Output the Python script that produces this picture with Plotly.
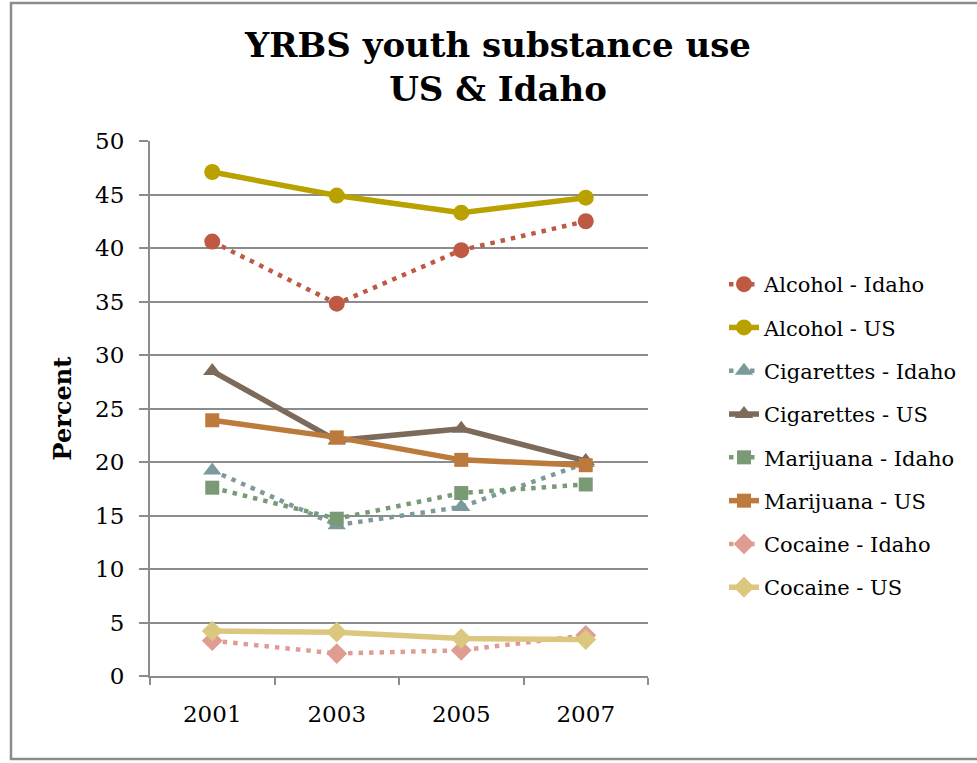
import plotly.graph_objects as go

years = ["2001", "2003", "2005", "2007"]
alcohol_idaho = [40.6, 34.8, 39.8, 42.5]
alcohol_us = [47.1, 44.9, 43.3, 44.7]
cig_idaho = [19.2, 14.1, 15.8, 19.9]
cig_us = [28.5, 22.0, 23.1, 20.1]
mari_idaho = [17.6, 14.7, 17.1, 17.9]
mari_us = [23.9, 22.3, 20.2, 19.7]
coc_idaho = [3.3, 2.1, 2.4, 3.8]
coc_us = [4.2, 4.1, 3.5, 3.4]

series = [
    ("Alcohol - Idaho", alcohol_idaho, "#BE5A44", "dot", "circle", 16),
    ("Alcohol - US", alcohol_us, "#B9A100", "solid", "circle", 16),
    ("Cigarettes - Idaho", cig_idaho, "#7C9A9C", "dot", "triangle-up", 16),
    ("Cigarettes - US", cig_us, "#7C6A5A", "solid", "triangle-up", 16),
    ("Marijuana - Idaho", mari_idaho, "#7A9A75", "dot", "square", 14),
    ("Marijuana - US", mari_us, "#BC7B3C", "solid", "square", 14),
    ("Cocaine - Idaho", coc_idaho, "#DF9C93", "dot", "diamond", 16),
    ("Cocaine - US", coc_us, "#DCC77F", "solid", "diamond", 16),
]

FONT = "DejaVu Serif"

fig = go.Figure()
for i, (name, vals, color, dash, sym, size) in enumerate(series):
    if dash == "dot":
        line = dict(color=color, width=4.5, dash="4.5px,6px")
    else:
        line = dict(color=color, width=5.5, dash="solid")
    fig.add_trace(go.Scatter(
        x=years, y=vals, name=name, mode="lines+markers",
        line=line,
        marker=dict(symbol=sym, size=size, color=color),
        legendgroup=f"g{i}",
    ))

W, H = 977, 763
L, R, T, B = 150, 648, 141, 676
pw, ph = R - L, B - T

def px(x):
    return (x - L) / pw

def py(y):
    return (B - y) / ph

fig.update_layout(
    width=W, height=H,
    margin=dict(l=L, r=W - R, t=T, b=H - B, pad=0),
    paper_bgcolor="white", plot_bgcolor="white",
    font=dict(family=FONT, color="black", size=22),
    title=dict(text="<b>YRBS youth substance use<br>US & Idaho</b>",
               x=498 / W, xanchor="center", xref="container",
               y=1 - 57 / H, yanchor="middle",
               font=dict(family=FONT, size=34, color="black")),
    showlegend=True,
    legend=dict(x=px(724), xanchor="left", y=py(264), yanchor="top",
                font=dict(family=FONT, size=21, color="black"),
                tracegroupgap=13, traceorder="grouped",
                bgcolor="rgba(0,0,0,0)", itemwidth=30),
    xaxis=dict(type="category", range=[-0.5, 3.5], showline=True,
               linecolor="#8C8C8C", linewidth=2,
               ticks="outside", tickson="boundaries", ticklen=7, tickwidth=2,
               tickcolor="#8C8C8C", showgrid=False, tickfont=dict(size=23),
               ticklabelstandoff=16),
    yaxis=dict(range=[0, 50], dtick=5, showline=True, linecolor="#8C8C8C", linewidth=2,
               ticks="outside", ticklen=9, tickwidth=2, tickcolor="#8C8C8C",
               gridcolor="#8C8C8C", gridwidth=2, zeroline=False,
               tickfont=dict(size=23), ticklabelstandoff=10,
               title=dict(text="<b>Percent</b>", font=dict(size=24), standoff=17)),
    shapes=[dict(type="rect", xref="paper", yref="paper",
                 x0=px(11), x1=px(990), y0=py(759), y1=py(3),
                 line=dict(color="#8C8C8C", width=2.5), fillcolor="rgba(0,0,0,0)",
                 layer="below")],
)

fig.write_html("out.html")
